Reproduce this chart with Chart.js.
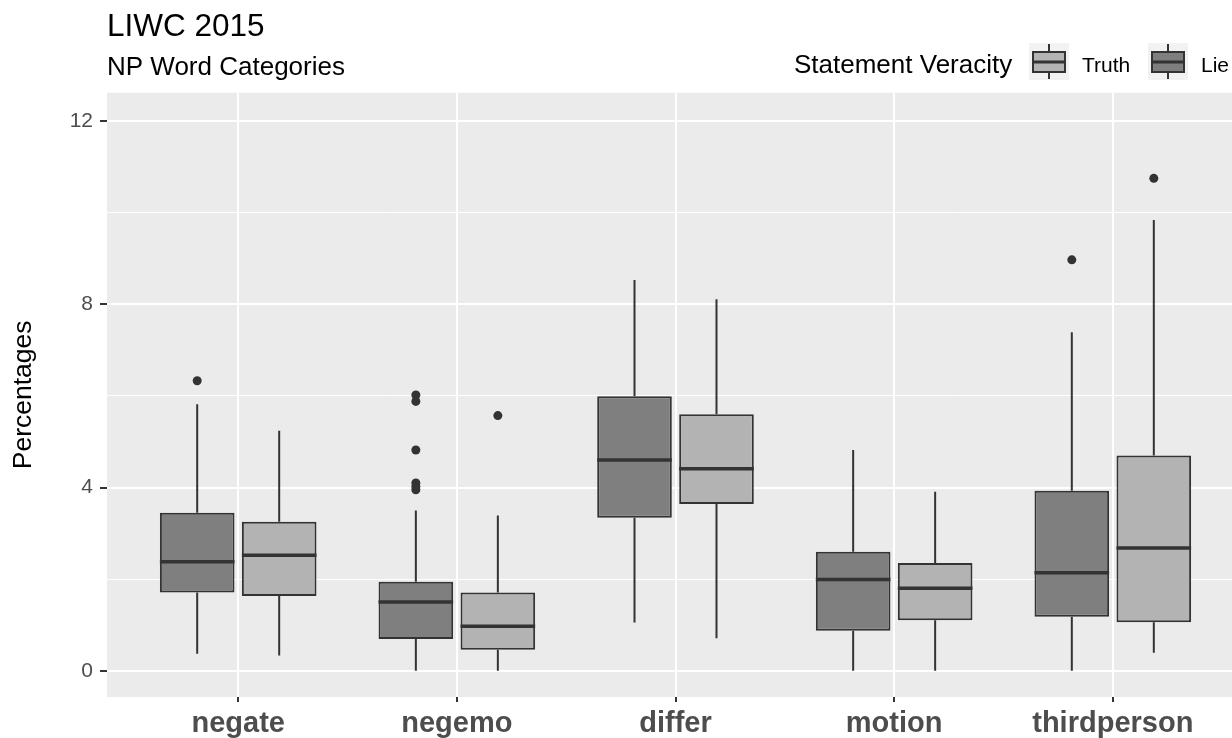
<!DOCTYPE html>
<html>
<head>
<meta charset="utf-8">
<title>LIWC 2015 - NP Word Categories</title>
<script src="https://cdn.jsdelivr.net/npm/chart.js@4/dist/chart.umd.min.js"></script>
<style>
  html, body { margin: 0; padding: 0; background: #fff; overflow: hidden; }
  #wrap { position: relative; width: 1290px; height: 738px; }
</style>
</head>
<body>
<div id="wrap"><canvas id="chart-liwc"></canvas></div>
<script>
const CATEGORIES = ["negate", "negemo", "differ", "motion", "thirdperson"];
const LEGEND_ORDER = ["Truth", "Lie"];
const Y_MAJOR = [0, 4, 8, 12];
const Y_MINOR = [2, 6, 10];

// box summaries, one value per category
const LIE_LOWER = [0.37, 0, 1.05, 0, 0];
const LIE_Q1 = [1.71, 0.69, 3.34, 0.87, 1.18];
const LIE_MEDIAN = [2.38, 1.5, 4.6, 1.99, 2.14];
const LIE_Q3 = [3.45, 1.94, 5.99, 2.6, 3.93];
const LIE_UPPER = [5.82, 3.5, 8.53, 4.82, 7.39];
const LIE_OUTLIERS = [[6.33], [6.02, 5.88, 4.82, 4.1, 4.02, 3.95], [], [], [8.97]];

const TRUTH_LOWER = [0.33, 0, 0.71, 0, 0.39];
const TRUTH_Q1 = [1.63, 0.46, 3.64, 1.1, 1.06];
const TRUTH_MEDIAN = [2.52, 0.97, 4.41, 1.8, 2.68];
const TRUTH_Q3 = [3.25, 1.71, 5.6, 2.35, 4.7];
const TRUTH_UPPER = [5.24, 3.39, 8.11, 3.91, 9.84];
const TRUTH_OUTLIERS = [[], [5.57], [], [], [10.75]];

const FONT = "'Liberation Sans', Arial, sans-serif";
const OUTLINE = "#333333";
const PANEL_BG = "#EBEBEB";
const DODGE = 0.1875;

Chart.defaults.font.family = FONT;

const GROUPS = [
  {
    label: "Lie", offset: -DODGE, fill: "#7F7F7F",
    lower: LIE_LOWER, q1: LIE_Q1, median: LIE_MEDIAN, q3: LIE_Q3, upper: LIE_UPPER, outliers: LIE_OUTLIERS,
  },
  {
    label: "Truth", offset: DODGE, fill: "#B3B3B3",
    lower: TRUTH_LOWER, q1: TRUTH_Q1, median: TRUTH_MEDIAN, q3: TRUTH_Q3, upper: TRUTH_UPPER, outliers: TRUTH_OUTLIERS,
  },
];

const outlierDatasets = GROUPS.map((g) => ({
  type: "scatter",
  label: `${g.label} outliers`,
  data: g.outliers.flatMap((vals, i) => vals.map((v) => ({ x: i + g.offset, y: v }))),
  pointRadius: 4.5,
  pointHoverRadius: 4.5,
  backgroundColor: OUTLINE,
  borderWidth: 0,
}));

const boxDatasets = GROUPS.map((g) => ({
  type: "bar",
  label: g.label,
  data: CATEGORIES.map((_, i) => ({ x: i + g.offset, y: [g.q1[i], g.q3[i]] })),
  backgroundColor: g.fill,
  borderColor: OUTLINE,
  borderWidth: 2,
  borderSkipped: false,
  grouped: false,
  categoryPercentage: 1,
  barPercentage: 0.91,
}));

function findGroup(label) {
  return GROUPS.find((g) => g.label === label);
}

const panelBackground = {
  id: "panelBackground",
  beforeDraw(chart) {
    const { ctx, chartArea } = chart;
    ctx.save();
    ctx.fillStyle = PANEL_BG;
    ctx.fillRect(chartArea.left, chartArea.top, chartArea.right - chartArea.left, chartArea.bottom - chartArea.top);
    ctx.restore();
  },
};

const boxWhiskers = {
  id: "boxWhiskers",
  beforeDatasetsDraw(chart) {
    const { ctx } = chart;
    const { x, y } = chart.scales;
    ctx.save();
    ctx.strokeStyle = OUTLINE;
    ctx.lineWidth = 2;
    GROUPS.forEach((g) => {
      CATEGORIES.forEach((_, i) => {
        const px = x.getPixelForValue(i + g.offset);
        ctx.beginPath();
        ctx.moveTo(px, y.getPixelForValue(g.lower[i]));
        ctx.lineTo(px, y.getPixelForValue(g.q1[i]));
        ctx.moveTo(px, y.getPixelForValue(g.q3[i]));
        ctx.lineTo(px, y.getPixelForValue(g.upper[i]));
        ctx.stroke();
      });
    });
    ctx.restore();
  },
  afterDatasetsDraw(chart) {
    const { ctx } = chart;
    const { y } = chart.scales;
    ctx.save();
    ctx.strokeStyle = OUTLINE;
    ctx.lineWidth = 3.5;
    chart.data.datasets.forEach((ds, di) => {
      if (ds.type !== "bar") return;
      const g = findGroup(ds.label);
      chart.getDatasetMeta(di).data.forEach((bar, i) => {
        const { x, width } = bar.getProps(["x", "width"], true);
        const py = y.getPixelForValue(g.median[i]);
        ctx.beginPath();
        ctx.moveTo(x - width / 2, py);
        ctx.lineTo(x + width / 2, py);
        ctx.stroke();
      });
    });
    ctx.restore();
  },
};

const veracityLegend = {
  id: "veracityLegend",
  afterDraw(chart) {
    const { ctx } = chart;
    ctx.save();
    ctx.textBaseline = "alphabetic";
    ctx.fillStyle = "#000";
    ctx.font = `26px ${FONT}`;
    ctx.fillText("Statement Veracity", 794, 72.5);

    let keyX = 1029;
    LEGEND_ORDER.forEach((label) => {
      const ds = chart.data.datasets.find((d) => d.type === "bar" && d.label === label);
      if (!ds) return;
      const cx = keyX + 20;
      ctx.fillStyle = "#F2F2F2";
      ctx.fillRect(keyX, 43, 40, 37);

      ctx.strokeStyle = OUTLINE;
      ctx.lineWidth = 2;
      ctx.beginPath();
      ctx.moveTo(cx, 44);
      ctx.lineTo(cx, 52);
      ctx.moveTo(cx, 72);
      ctx.lineTo(cx, 79);
      ctx.stroke();

      ctx.fillStyle = ds.backgroundColor;
      ctx.fillRect(keyX + 4, 52, 32, 20);
      ctx.strokeRect(keyX + 4, 52, 32, 20);
      ctx.lineWidth = 3;
      ctx.beginPath();
      ctx.moveTo(keyX + 4, 62);
      ctx.lineTo(keyX + 36, 62);
      ctx.stroke();

      ctx.fillStyle = "#000";
      ctx.font = `21px ${FONT}`;
      ctx.fillText(label, keyX + 53, 71.5);
      keyX += 119;
    });
    ctx.restore();
  },
};

const isMajor = (c) => !!c.tick && Y_MAJOR.includes(c.tick.value);

new Chart(document.getElementById("chart-liwc"), {
  type: "bar",
  data: {
    datasets: [...outlierDatasets, ...boxDatasets],
  },
  options: {
    responsive: true,
    maintainAspectRatio: false,
    animation: false,
    layout: {
      padding: { left: 0, top: 0, right: 46, bottom: 0 },
    },
    plugins: {
      legend: { display: false },
      tooltip: { enabled: false },
      title: {
        display: true,
        text: "LIWC 2015",
        align: "start",
        fullSize: false,
        color: "#000",
        font: { size: 31.5, weight: "normal" },
        padding: { top: 8.2, bottom: 0 },
      },
      subtitle: {
        display: true,
        text: "NP Word Categories",
        align: "start",
        fullSize: false,
        color: "#000",
        font: { size: 26, weight: "normal" },
        padding: { top: 6.4, bottom: 9.1 },
      },
    },
    scales: {
      x: {
        type: "linear",
        min: -0.6,
        max: CATEGORIES.length - 0.4,
        offset: false,
        afterBuildTicks: (axis) => {
          axis.ticks = CATEGORIES.map((_, i) => ({ value: i }));
        },
        afterFit: (axis) => {
          axis.height = 41;
        },
        grid: {
          offset: false,
          color: "#FFFFFF",
          lineWidth: 2,
          tickLength: 5,
          tickColor: OUTLINE,
          tickWidth: 2,
        },
        border: { display: false },
        ticks: {
          autoSkip: false,
          maxRotation: 0,
          padding: 5,
          color: "#4D4D4D",
          font: { size: 29, weight: "bold" },
          callback: (value) => CATEGORIES[value] ?? "",
        },
      },
      y: {
        type: "linear",
        min: -0.574,
        max: 12.62,
        afterBuildTicks: (axis) => {
          axis.ticks = [...Y_MAJOR, ...Y_MINOR].sort((a, b) => a - b).map((v) => ({ value: v }));
        },
        afterFit: (axis) => {
          axis.width = 107;
        },
        grid: {
          color: "#FFFFFF",
          lineWidth: (c) => (isMajor(c) ? 2 : 1),
          tickLength: 7,
          tickColor: (c) => (isMajor(c) ? OUTLINE : "rgba(0,0,0,0)"),
          tickWidth: 2,
        },
        border: { display: false },
        ticks: {
          padding: 7,
          color: "#4D4D4D",
          font: { size: 21 },
          callback: (value) => (Y_MAJOR.includes(value) ? String(value) : ""),
        },
        title: {
          display: true,
          text: "Percentages",
          color: "#000",
          font: { size: 26.5 },
          padding: { top: 8, bottom: 0 },
        },
      },
    },
  },
  plugins: [panelBackground, boxWhiskers, veracityLegend],
});
</script>
</body>
</html>
